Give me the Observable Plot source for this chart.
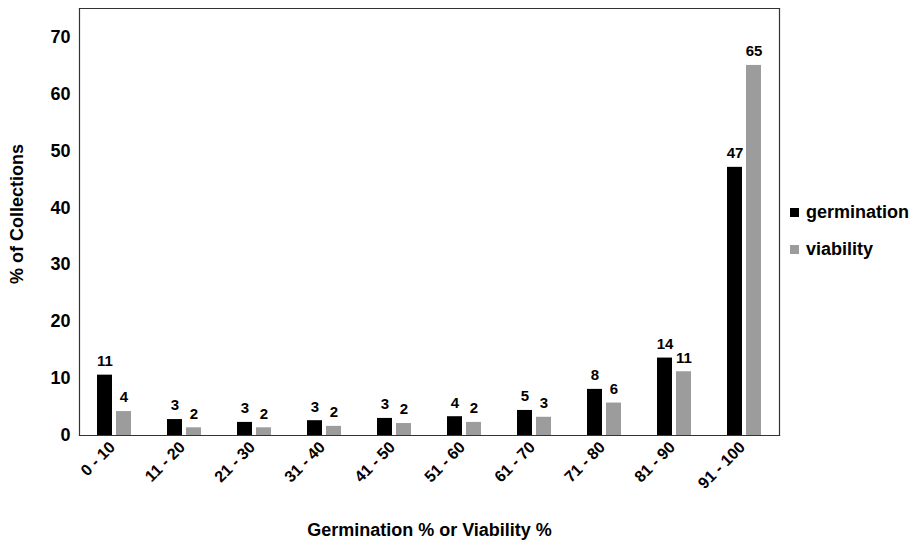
<!DOCTYPE html>
<html><head><meta charset="utf-8">
<script src="https://cdn.jsdelivr.net/npm/d3@7"></script>
<script src="https://cdn.jsdelivr.net/npm/@observablehq/plot@0.6"></script>
<style>
body{margin:0;background:#fff;font-family:"Liberation Sans",Arial,sans-serif;}
#wrap{position:relative;width:920px;height:540px;}
#ylab{position:absolute;left:17px;top:214px;transform:translate(-50%,-50%) rotate(-90deg);white-space:nowrap;font-weight:bold;font-size:18px;color:#000;}
#legend{position:absolute;left:790px;top:203px;font-weight:bold;font-size:18px;color:#000;}
#legend .item{display:flex;align-items:center;height:18px;margin-bottom:19px;}
#legend .sw{width:9px;height:9px;margin-right:7px;}
</style></head><body><div id="wrap"></div>
<script>
const categories = ["0 - 10","11 - 20","21 - 30","31 - 40","41 - 50","51 - 60","61 - 70","71 - 80","81 - 90","91 - 100"];
const germination = [10.6, 2.8, 2.3, 2.6, 3.0, 3.3, 4.4, 8.1, 13.6, 47.1];
const viability = [4.2, 1.35, 1.35, 1.6, 2.1, 2.3, 3.2, 5.7, 11.2, 65.0];
const germinationLabels = [11, 3, 3, 3, 3, 4, 5, 8, 14, 47];
const viabilityLabels = [4, 2, 2, 2, 2, 2, 3, 6, 11, 65];
const seriesNames = ["germination", "viability"];
const seriesColors = ["#000000", "#9c9c9c"];
const yTicks = [0, 10, 20, 30, 40, 50, 60, 70];
const xTitle = "Germination % or Viability %";
const yTitle = "% of Collections";

const rows = [];
categories.forEach((c, i) => {
  rows.push({cat: c, series: seriesNames[0], value: germination[i], label: germinationLabels[i]});
  rows.push({cat: c, series: seriesNames[1], value: viability[i], label: viabilityLabels[i]});
});

const font = "'Liberation Sans', Arial, sans-serif";
const chart = Plot.plot({
  width: 920, height: 540,
  marginTop: 8, marginBottom: 105, marginLeft: 76, marginRight: 138,
  style: {fontFamily: font, fontWeight: "bold", color: "#000", background: "#fff"},
  fx: {domain: categories, padding: 0},
  x: {domain: seriesNames, paddingInner: 0.2, paddingOuter: 0.86, axis: null},
  y: {domain: [0, 75]},
  color: {domain: seriesNames, range: seriesColors},
  marks: [
    Plot.barY(rows, {fx: "cat", x: "series", y: "value", fill: "series"}),
    Plot.text(rows, {fx: "cat", x: "series", y: "value", text: "label", dy: -14, fontSize: 15, fontWeight: "bold", fill: "#000"}),
    Plot.frame({anchor: "top", stroke: "#333", strokeWidth: 1.2}),
    Plot.frame({anchor: "bottom", stroke: "#333", strokeWidth: 1.2}),
    Plot.frame({anchor: "left", facetAnchor: "left", stroke: "#333", strokeWidth: 1.2}),
    Plot.frame({anchor: "right", facetAnchor: "right", stroke: "#333", strokeWidth: 1.2}),
    Plot.axisY({ticks: yTicks, tickSize: 0, tickPadding: 9, fontSize: 18, fontWeight: "bold", label: null}),
    Plot.axisFx({anchor: "bottom", tickRotate: -45, tickSize: 0, tickPadding: 9, dx: -2, fontSize: 16, fontWeight: "bold",
      label: xTitle, labelAnchor: "center", labelOffset: 100})
  ]
});
chart.querySelectorAll("[aria-label='fx-axis label']").forEach(n => n.setAttribute("font-size", "18"));
const wrap = document.getElementById("wrap");
wrap.appendChild(chart);
const yl = document.createElement("div");
yl.id = "ylab"; yl.textContent = yTitle; wrap.appendChild(yl);
const lg = document.createElement("div");
lg.id = "legend";
seriesNames.forEach((s, i) => {
  const it = document.createElement("div"); it.className = "item";
  const sw = document.createElement("span"); sw.className = "sw"; sw.style.background = seriesColors[i];
  const tx = document.createElement("span"); tx.textContent = s;
  it.appendChild(sw); it.appendChild(tx); lg.appendChild(it);
});
wrap.appendChild(lg);
</script></body></html>
